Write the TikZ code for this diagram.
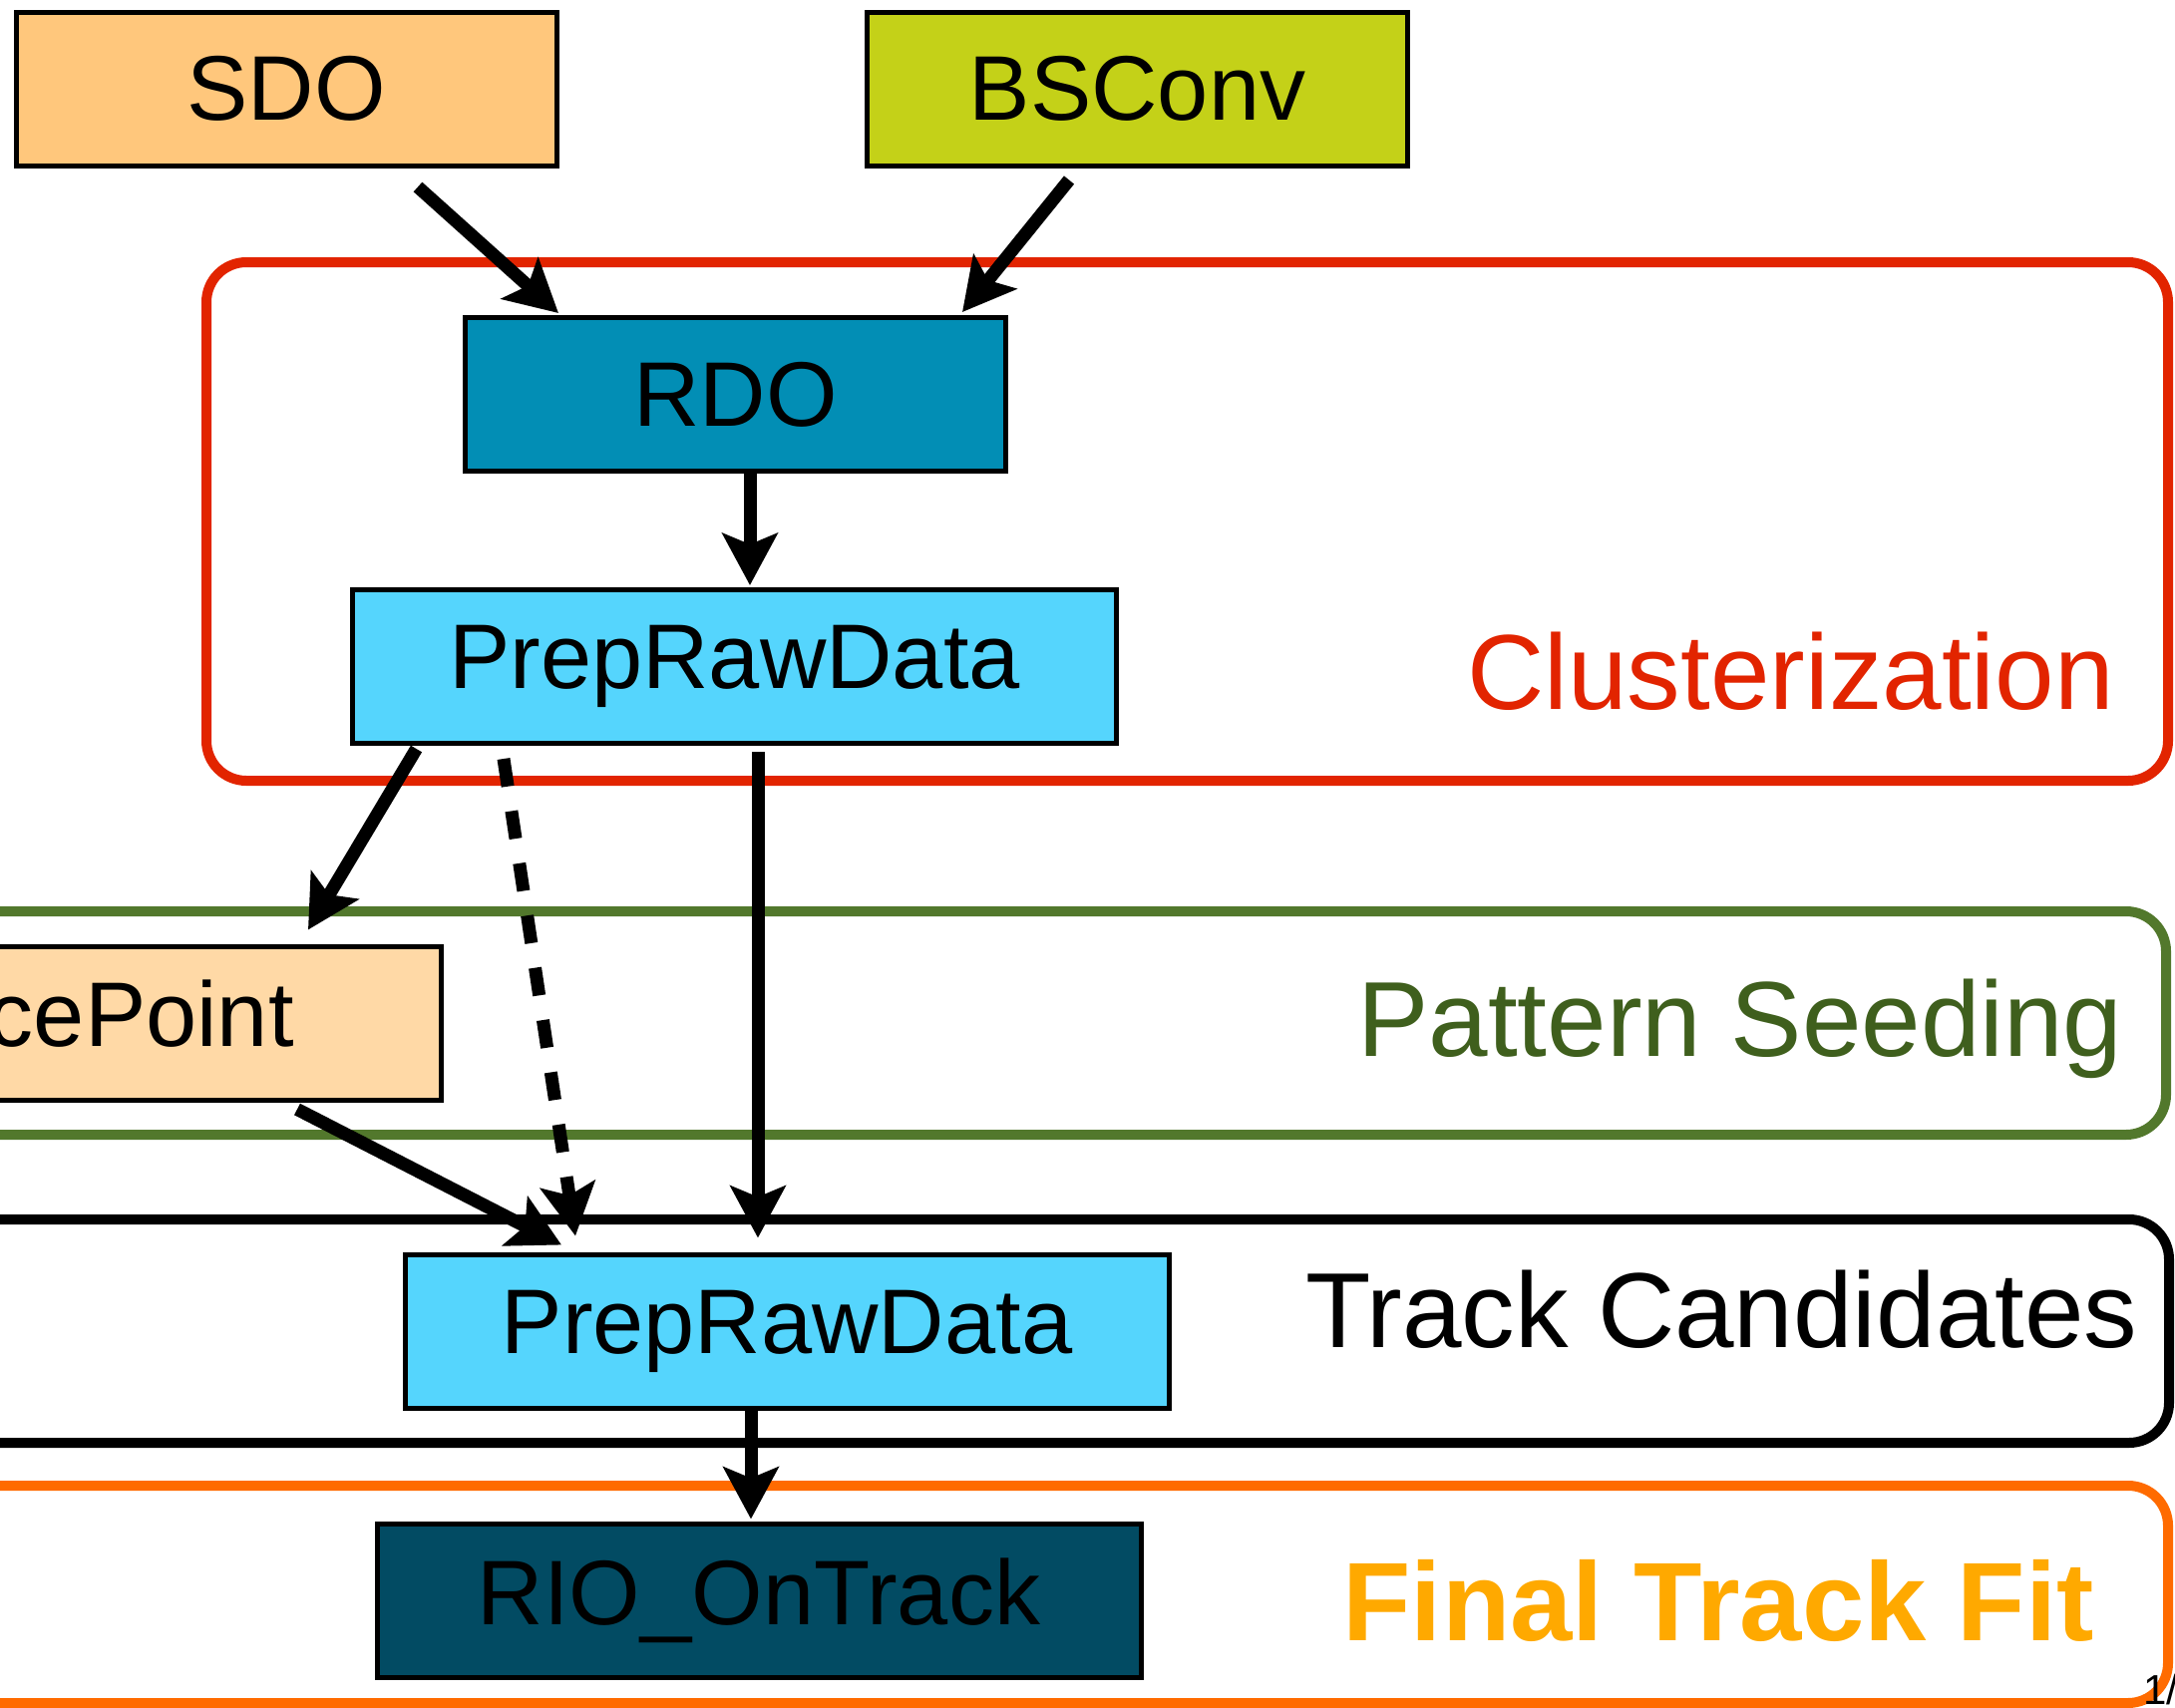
\documentclass[tikz,border=0pt]{standalone}
\usepackage{fontspec}
\setmainfont{Liberation Sans}
\usetikzlibrary{arrows.meta,calc}
\definecolor{sdoc}{HTML}{FFC77C}
\definecolor{bsc}{HTML}{C4D118}
\definecolor{rdoc}{HTML}{028EB5}
\definecolor{prdc}{HTML}{55D5FD}
\definecolor{spc}{HTML}{FFD9A6}
\definecolor{rioc}{HTML}{024B63}
\definecolor{clred}{HTML}{E22400}
\definecolor{psgreen}{HTML}{52782C}
\definecolor{pstext}{HTML}{3F5F1D}
\definecolor{ftorange}{HTML}{FF6B00}
\definecolor{fttext}{HTML}{FFA900}
\begin{document}
\begin{tikzpicture}[x=0.5pt,y=-0.5pt,
  box/.style={draw=black,line width=2.5pt,minimum width=271pt,minimum height=77pt,inner sep=0pt,font=\fontsize{46}{54}\selectfont},
  widebox/.style={box,minimum width=383pt},
  group/.style={line width=5pt,rounded corners=20pt},
  grouplabel/.style={anchor=base east,inner sep=0pt,font=\fontsize{53.5}{60}\selectfont},
  flow/.style={line width=6.5pt,-{Stealth[length=26pt,width=27.5pt,inset=5.5pt]}},
  dashflow/.style={flow,dash pattern=on 14pt off 12.5pt},
]
\useasboundingbox (0,0) rectangle (2181,1713);
\clip (0,0) rectangle (2181,1713);
% stage frames
\draw[group,clred] (207,263) rectangle (2174,783);
\draw[group,psgreen] (-80,914) rectangle (2172,1138);
\draw[group,black] (-80,1223) rectangle (2175,1447);
\draw[group,ftorange] (-80,1490) rectangle (2174,1708);
% stage labels
\node[grouplabel,text=clred] (lclu) at (2120,711) {Clusterization};
\node[grouplabel,text=pstext] (lpat) at (2129,1059) {Pattern Seeding};
\node[grouplabel,text=black] (ltrk) at (2144,1351) {Track Candidates};
\node[grouplabel,text=fttext,font=\fontsize{56}{62}\selectfont\bfseries] (lfit) at (2100,1645) {Final Track Fit};
% data boxes
\node[box,fill=sdoc] (SDO) at (287,89) {SDO};
\node[box,fill=bsc] (BS) at (1140.5,89) {BSConv};
\node[box,fill=rdoc] (RDO) at (737.5,395.5) {RDO};
\node[widebox,fill=prdc] (PRDa) at (736.5,668.5) {PrepRawData};
\node[widebox,fill=spc] (SP) at (59.5,1026) {SpacePoint};
\node[widebox,fill=prdc] (PRDb) at (789,1335) {PrepRawData};
\node[widebox,fill=rioc] (RIO) at (761,1605) {RIO\_OnTrack};
% connectors
\draw[flow] ($(SDO.south)+(132,19)$) -- ($(RDO.north)+(-177.5,-2)$);
\draw[flow] ($(BS.south)+(-68.5,12)$) -- ($(RDO.north)+(227.5,-3)$);
\draw[flow] ($(RDO.south)+(14.5,0)$) -- ($(PRDa.north)+(15.5,-2)$);
\draw[flow] ($(PRDa.south)+(-319,3)$) -- ($(SP.north)+(249.5,-14)$);
\draw[dashflow] ($(PRDa.south)+(-231.5,13)$) -- ($(PRDb.north)+(-212,-16)$);
\draw[flow] ($(PRDa.south)+(23.5,6)$) -- ($(PRDb.north)+(-29,-14)$);
\draw[flow] ($(SP.south)+(238.5,7)$) -- ($(PRDb.north)+(-226,-7)$);
\draw[flow] ($(PRDb.south)+(-36,0)$) -- ($(RIO.north)+(-8,-2)$);
% page number fragment
\node[anchor=base west,inner sep=0pt,font=\fontsize{21}{24}\selectfont] (pg) at (2149,1709) {1/};
\end{tikzpicture}
\end{document}
